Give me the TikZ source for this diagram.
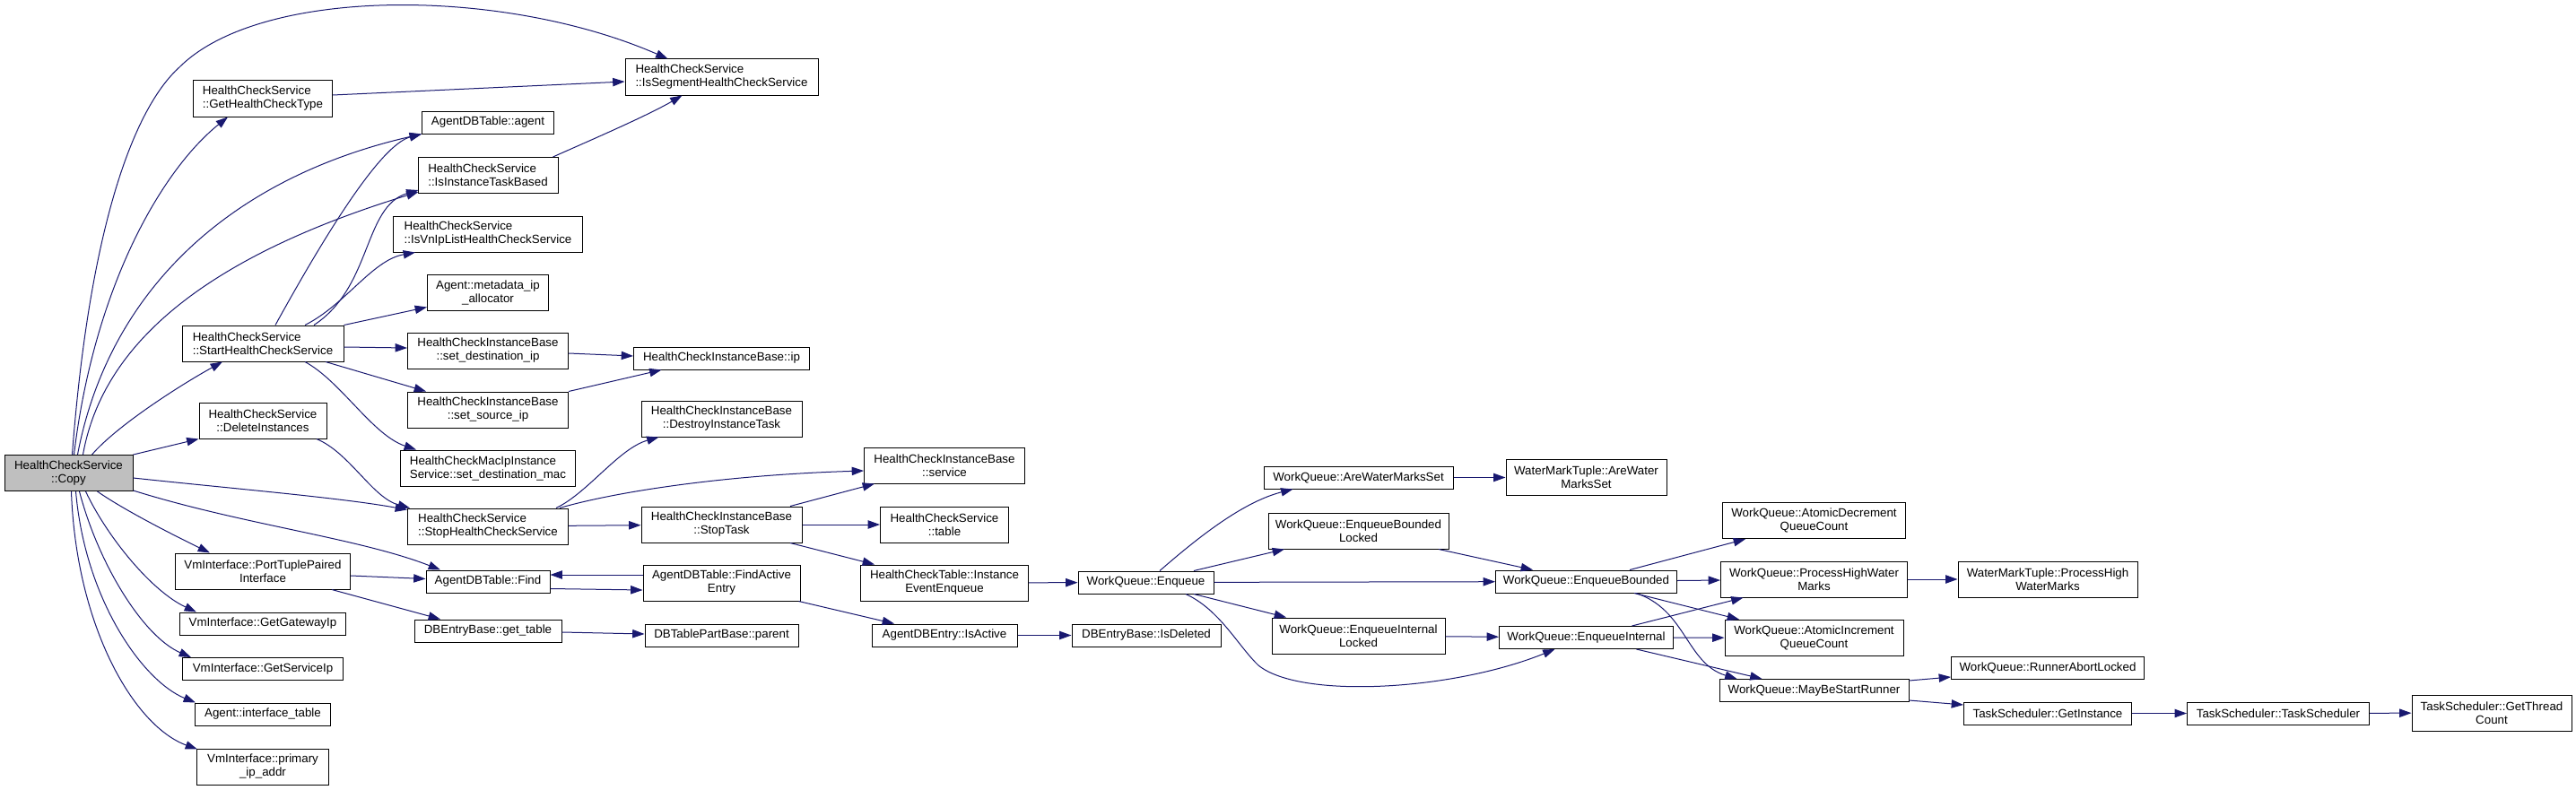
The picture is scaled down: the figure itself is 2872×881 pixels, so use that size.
\documentclass[tikz,border=0pt]{standalone}
\usepackage{fontspec}
\setmainfont{Liberation Sans}
\usetikzlibrary{arrows.meta}
\definecolor{edgec}{HTML}{191970}
\definecolor{copyfill}{HTML}{BFBFBF}
\begin{document}
\begin{tikzpicture}[x=0.75pt,y=-0.75pt,
  font=\fontsize{10}{11.25}\selectfont,
  box/.style={draw=black, line width=0.75pt, fill=white, inner sep=0pt, align=center},
  lbox/.style={box, align=left},
  sz/.style 2 args={minimum width=#1*0.75pt, minimum height=#2*0.75pt},
  e/.style={draw=edgec, line width=0.75pt, -{Triangle[length=10pt,width=7pt]}}]
\fill[white] (0,0) rectangle (2872,881);
\useasboundingbox (0,0) rectangle (2872,881);
% nodes
\node[box, sz={143}{40}, fill=copyfill] (copy) at (76.5,527.5) {HealthCheckService\\::Copy};
\node[lbox, sz={155}{40}] (ghc) at (293,110) {HealthCheckService\\::GetHealthCheckType};
\node[lbox, sz={215}{40}] (seg) at (804.5,86) {HealthCheckService\\::IsSegmentHealthCheckService};
\node[box, sz={147}{25}] (agent) at (544,136.5) {AgentDBTable::agent};
\node[lbox, sz={156}{40}] (iitb) at (544,195.5) {HealthCheckService\\::IsInstanceTaskBased};
\node[lbox, sz={211}{40}] (ivn) at (544,261) {HealthCheckService\\::IsVnIpListHealthCheckService};
\node[box, sz={135}{40}] (meta) at (544,326) {Agent::metadata\_ip\\\_allocator};
\node[lbox, sz={180}{40}] (start) at (293,383) {HealthCheckService\\::StartHealthCheckService};
\node[box, sz={179}{40}] (sdi) at (544,391) {HealthCheckInstanceBase\\::set\_destination\_ip};
\node[box, sz={196}{25}] (ip) at (804.5,399.5) {HealthCheckInstanceBase::ip};
\node[box, sz={179}{40}] (ssi) at (544,457) {HealthCheckInstanceBase\\::set\_source\_ip};
\node[box, sz={142}{40}] (del) at (293,469) {HealthCheckService\\::DeleteInstances};
\node[lbox, sz={195}{40}] (sdm) at (544,522) {HealthCheckMacIpInstance\\Service::set\_destination\_mac};
\node[lbox, sz={179}{40}] (stop) at (544,587) {HealthCheckService\\::StopHealthCheckService};
\node[box, sz={195}{40}] (ptpi) at (293,637) {VmInterface::PortTuplePaired\\Interface};
\node[box, sz={138}{25}] (find) at (544,648.5) {AgentDBTable::Find};
\node[box, sz={185}{25}] (ggi) at (293,695.5) {VmInterface::GetGatewayIp};
\node[box, sz={164}{25}] (gt) at (544,703.5) {DBEntryBase::get\_table};
\node[box, sz={179}{25}] (gsi) at (293,746) {VmInterface::GetServiceIp};
\node[box, sz={151}{25}] (itab) at (293,796.5) {Agent::interface\_table};
\node[box, sz={147}{40}] (prim) at (293,855) {VmInterface::primary\\\_ip\_addr};
\node[box, sz={179}{40}] (dit) at (804.5,467) {HealthCheckInstanceBase\\::DestroyInstanceTask};
\node[box, sz={179}{40}] (stask) at (804.5,585) {HealthCheckInstanceBase\\::StopTask};
\node[box, sz={175}{40}] (fae) at (804.5,650) {AgentDBTable::FindActive\\Entry};
\node[box, sz={171}{25}] (par) at (804.5,708.5) {DBTablePartBase::parent};
\node[box, sz={179}{40}] (svc) at (1053,519) {HealthCheckInstanceBase\\::service};
\node[box, sz={143}{40}] (tbl) at (1053,585) {HealthCheckService\\::table};
\node[box, sz={187}{40}] (iee) at (1053,650) {HealthCheckTable::Instance\\EventEnqueue};
\node[box, sz={162}{25}] (act) at (1053,708.5) {AgentDBEntry::IsActive};
\node[box, sz={151}{25}] (enq) at (1277.5,649.5) {WorkQueue::Enqueue};
\node[box, sz={166}{25}] (isdel) at (1278,708.5) {DBEntryBase::IsDeleted};
\node[box, sz={211}{25}] (awms) at (1514.5,532.5) {WorkQueue::AreWaterMarksSet};
\node[box, sz={201}{40}] (ebl) at (1514.5,592) {WorkQueue::EnqueueBounded\\Locked};
\node[box, sz={193}{40}] (eil) at (1514.5,709) {WorkQueue::EnqueueInternal\\Locked};
\node[box, sz={179}{40}] (wawms) at (1768.5,532.5) {WaterMarkTuple::AreWater\\MarksSet};
\node[box, sz={202}{25}] (eb) at (1768.5,648.5) {WorkQueue::EnqueueBounded};
\node[box, sz={194}{25}] (ei) at (1768.5,711) {WorkQueue::EnqueueInternal};
\node[box, sz={204}{40}] (ad) at (2022.5,580.7) {WorkQueue::AtomicDecrement\\QueueCount};
\node[box, sz={208}{40}] (phwm) at (2022.5,646) {WorkQueue::ProcessHighWater\\Marks};
\node[box, sz={199}{40}] (ai) at (2022.5,711.3) {WorkQueue::AtomicIncrement\\QueueCount};
\node[box, sz={211}{25}] (mbsr) at (2022.5,770) {WorkQueue::MayBeStartRunner};
\node[box, sz={200}{40}] (wphwm) at (2283,646) {WaterMarkTuple::ProcessHigh\\WaterMarks};
\node[box, sz={215}{25}] (ral) at (2283,744.5) {WorkQueue::RunnerAbortLocked};
\node[box, sz={187}{25}] (gi) at (2283,795.5) {TaskScheduler::GetInstance};
\node[box, sz={203}{25}] (ts) at (2540,795.5) {TaskScheduler::TaskScheduler};
\node[box, sz={178}{40}] (gtc) at (2778,795) {TaskScheduler::GetThread\\Count};
% edges from Copy
\draw[e] ([shift={(4,0)}]copy.north) .. controls (100,250) and (150,120) .. (200,75) .. controls (290,-15) and (560,-15) .. ([shift={(-60,0)}]seg.north);
\draw[e] ([shift={(6,0)}]copy.north) .. controls (105,320) and (180,190) .. ([shift={(-39,0)}]ghc.south);
\draw[e] ([shift={(10,0)}]copy.north) .. controls (120,330) and (250,200) .. (agent.south west);
\draw[e] ([shift={(16,0)}]copy.north) .. controls (115,380) and (235,285) .. ([shift={(1,-2)}]iitb.south west);
\draw[e] ([shift={(26,0)}]copy.north) .. controls (130,475) and (200,430) .. ([shift={(-45,0)}]start.south);
\draw[e] (copy.north east) -- (del.south west);
\draw[e] ([shift={(0,5.5)}]copy.east) .. controls (260,545) and (380,555) .. ([shift={(0,2)}]stop.north west);
\draw[e] ([shift={(0,-1)}]copy.south east) .. controls (270,585) and (400,600) .. ([shift={(-53,0)}]find.north);
\draw[e] ([shift={(32,0)}]copy.south) .. controls (140,570) and (200,600) .. ([shift={(-59,0)}]ptpi.north);
\draw[e] ([shift={(19,0)}]copy.south) .. controls (120,600) and (170,660) .. ([shift={(-74,0)}]ggi.north);
\draw[e] ([shift={(12,0)}]copy.south) .. controls (110,630) and (160,710) .. ([shift={(-80,0)}]gsi.north);
\draw[e] ([shift={(8,0)}]copy.south) .. controls (95,670) and (160,760) .. ([shift={(1,0)}]itab.north west);
\draw[e] ([shift={(3,0)}]copy.south) .. controls (85,700) and (150,810) .. ([shift={(1,1)}]prim.north west);
% Start
\draw[e] ([shift={(14,0)}]start.north) .. controls (380,230) and (430,160) .. (agent.south west);
\draw[e] ([shift={(57,0)}]start.north) .. controls (415,320) and (405,230) .. ([shift={(1,-4)}]iitb.south west);
\draw[e] ([shift={(47,0)}]start.north) .. controls (385,340) and (415,290) .. ([shift={(-81,0)}]ivn.south);
\draw[e] (start.north east) -- ([shift={(0,-4)}]meta.south west);
\draw[e] ([shift={(0,4)}]start.east) -- ([shift={(0,-3)}]sdi.west);
\draw[e] ([shift={(70,0)}]start.south) -- ([shift={(-69,0)}]ssi.north);
\draw[e] ([shift={(47,0)}]start.south) .. controls (380,425) and (415,485) .. ([shift={(-80,0)}]sdm.north);
% others upper
\draw[e] ([shift={(-6,0)}]iitb.north east) .. controls (650,160) and (720,130) .. ([shift={(-44,0)}]seg.south);
\draw[e] ([shift={(0,-4)}]ghc.east) -- ([shift={(0,5)}]seg.west);
\draw[e] ([shift={(0,3)}]sdi.east) -- ([shift={(0,-2.5)}]ip.west);
\draw[e] (ssi.north east) -- ([shift={(-67,0)}]ip.south);
\draw[e] ([shift={(60,0)}]del.south) .. controls (390,505) and (415,555) .. ([shift={(3,0)}]stop.north west);
% lower left
\draw[e] ([shift={(0,5)}]ptpi.east) -- ([shift={(0,-3)}]find.west);
\draw[e] ([shift={(77,0)}]ptpi.south) -- ([shift={(-53,0)}]gt.north);
\draw[e] ([shift={(0,8)}]find.east) -- ([shift={(0,8)}]fae.west);
\draw[e] ([shift={(0,-9)}]fae.west) -- ([shift={(0,-7.5)}]find.east);
\draw[e] ([shift={(0,1.5)}]gt.east) -- ([shift={(0,-1.5)}]par.west);
\draw[e] ([shift={(-2,0)}]fae.south east) -- ([shift={(-56,0)}]act.north);
\draw[e] (act) -- (isdel);
% Stop
\draw[e] ([shift={(76,0)}]stop.north) .. controls (655,550) and (690,500) .. ([shift={(-70,0)}]dit.south);
\draw[e] ([shift={(80,0)}]stop.north) .. controls (680,550) and (800,530) .. ([shift={(0,6)}]svc.west);
\draw[e] (stop) -- (stask);
\draw[e] ([shift={(76.5,0)}]stask.north) -- ([shift={(-78,0)}]svc.south);
\draw[e] (stask) -- (tbl);
\draw[e] ([shift={(76.5,0)}]stask.south) -- ([shift={(-78,0)}]iee.north);
\draw[e] (iee) -- (enq);
% Enqueue
\draw[e] ([shift={(15.5,0)}]enq.north) .. controls (1335,600) and (1385,560) .. ([shift={(-73,0)}]awms.south);
\draw[e] ([shift={(53.5,0)}]enq.north) -- ([shift={(-82.5,0)}]ebl.south);
\draw[e] (enq) -- (eb);
\draw[e] ([shift={(53.5,0)}]enq.south) -- ([shift={(-80.5,0)}]eil.north);
\draw[e] ([shift={(44.5,0)}]enq.south) .. controls (1360,680) and (1380,720) .. (1403,742) .. controls (1450,780) and (1620,770) .. ([shift={(-35,0)}]ei.south);
\draw[e] (awms) -- (wawms);
\draw[e] ([shift={(89.5,0)}]ebl.south) -- ([shift={(-59.5,0)}]eb.north);
\draw[e] (eil) -- (ei);
% EnqueueBounded / EnqueueInternal
\draw[e] ([shift={(48.5,0)}]eb.north) -- ([shift={(-76.5,0)}]ad.south);
\draw[e] (eb) -- (phwm);
\draw[e] ([shift={(53.5,0)}]eb.south) -- ([shift={(-83.5,0)}]ai.north);
\draw[e] ([shift={(55.5,0)}]eb.south) .. controls (1880,680) and (1880,740) .. ([shift={(-86,0)}]mbsr.north);
\draw[e] ([shift={(51,0)}]ei.north) -- ([shift={(-79,0)}]phwm.south);
\draw[e] (ei) -- (ai);
\draw[e] ([shift={(56,0)}]ei.south) -- ([shift={(-58,0)}]mbsr.north);
\draw[e] (phwm) -- (wphwm);
\draw[e] ([shift={(0,-11)}]mbsr.east) -- ([shift={(0,10.5)}]ral.west);
\draw[e] ([shift={(0,11)}]mbsr.east) -- ([shift={(0,-9.5)}]gi.west);
\draw[e] (gi) -- (ts);
\draw[e] (ts) -- (gtc);
\end{tikzpicture}
\end{document}
